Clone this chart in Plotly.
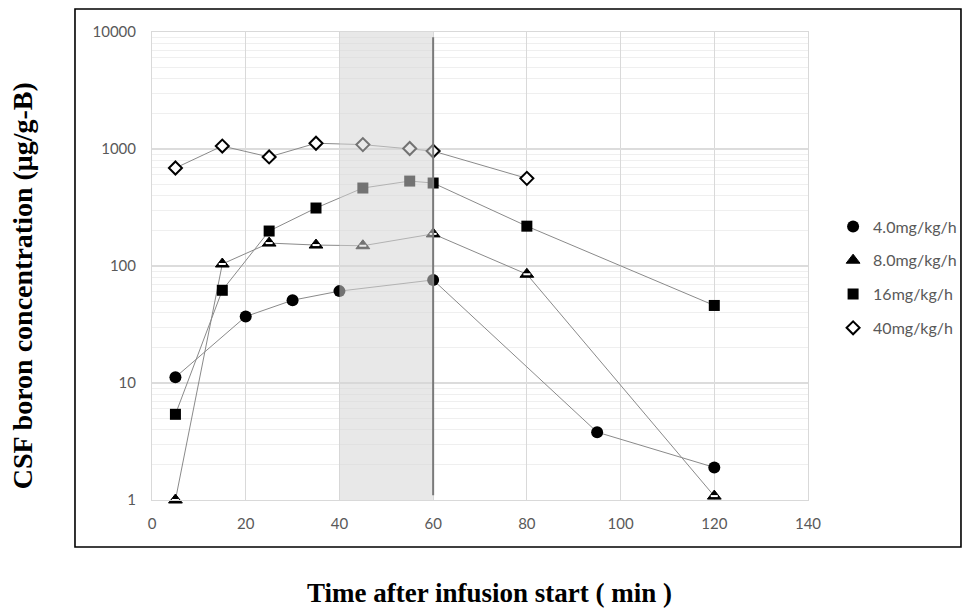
import plotly.graph_objects as go

# ---- data ----
x_4 = [5, 20, 30, 40, 60, 95, 120]
y_4 = [11.2, 37, 51, 61, 76, 3.8, 1.9]

x_8 = [5, 15, 25, 35, 45, 60, 80, 120]
y_8 = [1.0, 104, 157, 151, 149, 188, 85, 1.08]

x_16 = [5, 15, 25, 35, 45, 55, 60, 80, 120]
y_16 = [5.4, 62, 199, 313, 464, 532, 512, 219, 46]

x_40 = [5, 15, 25, 35, 45, 55, 60, 80]
y_40 = [688, 1060, 855, 1120, 1090, 1010, 960, 561]

series_names = ["4.0mg/kg/h", "8.0mg/kg/h", "16mg/kg/h", "40mg/kg/h"]
x_ticks = [0, 20, 40, 60, 80, 100, 120, 140]
y_ticks = [1, 10, 100, 1000, 10000]
y_tick_text = ["1", "10", "100", "1000", "10000"]
shade_x = [40, 60]
infusion_end = 60

series = [(x_4, y_4), (x_8, y_8), (x_16, y_16), (x_40, y_40)]
markers = [
    dict(symbol="circle", size=12, color="black"),
    dict(symbol="triangle-up", size=12, color="black", line=dict(color="black", width=1)),
    dict(symbol="square", size=11, color="black"),
    dict(symbol="diamond", size=10, color="white", line=dict(color="black", width=2)),
]
groups = ["a", "b", "c", "d"]

fig = go.Figure()
# connecting lines (no legend)
for (xs, ys) in series:
    fig.add_trace(go.Scatter(x=xs, y=ys, mode="lines", showlegend=False,
                             line=dict(color="#8a8a8a", width=1), hoverinfo="skip"))
# markers (with legend)
for (xs, ys), name, mk, g in zip(series, series_names, markers, groups):
    fig.add_trace(go.Scatter(x=xs, y=ys, name=name, mode="markers", legendgroup=g,
                             cliponaxis=False, marker=mk))
# white band inside the triangle markers
fig.add_trace(go.Scatter(x=x_8, y=y_8, mode="markers", showlegend=False, hoverinfo="skip",
                         cliponaxis=False,
                         marker=dict(symbol="line-ew", size=5, line=dict(color="white", width=2))))

# shaded infusion window (drawn above the data, semi-transparent)
fig.add_shape(type="rect", xref="x", yref="paper", x0=shade_x[0], x1=shade_x[1],
              y0=0, y1=1, fillcolor="rgba(213,213,213,0.54)", line=dict(width=0),
              layer="above")
fig.add_shape(type="line", xref="x", yref="y", x0=infusion_end, x1=infusion_end,
              y0=1.1, y1=9000, line=dict(color="#7a7a7a", width=2), layer="above")
# outer frame
fig.add_shape(type="rect", xref="paper", yref="paper", x0=-0.1174, x1=1.2332,
              y0=-0.1004, y1=1.0491, line=dict(color="black", width=1.6),
              fillcolor="rgba(0,0,0,0)")

fig.add_annotation(text="<b>CSF boron concentration (μg/g-B)</b>", xref="paper", yref="paper",
                   x=-0.198, y=0.457, xanchor="center", yanchor="middle",
                   textangle=-90, showarrow=False,
                   font=dict(family="Liberation Serif", size=28, color="black"))
fig.add_annotation(text="<b>Time after infusion start ( min )</b>", xref="paper", yref="paper",
                   x=0.515, y=-0.199, xanchor="center", yanchor="middle", showarrow=False,
                   font=dict(family="Liberation Serif", size=27, color="black"))

fig.update_layout(
    width=962, height=609,
    margin=dict(l=152, r=154, t=32, b=109, autoexpand=False),
    paper_bgcolor="white", plot_bgcolor="white",
    font=dict(family="Lato", size=15, color="#595959"),
    showlegend=True,
    legend=dict(xref="container", yref="container", x=0.866, y=0.656,
                xanchor="left", yanchor="top", itemwidth=30,
                tracegroupgap=10, font=dict(family="Lato", size=16, color="#595959"),
                bgcolor="rgba(0,0,0,0)"),
    xaxis=dict(range=[0, 140], tickvals=x_ticks, showgrid=True, gridcolor="#d9d9d9",
               gridwidth=1, zeroline=False, showline=True, linecolor="#d9d9d9",
               mirror=True, ticks="", ticklabelstandoff=10),
    yaxis=dict(type="log", range=[0, 4], tickvals=y_ticks, ticktext=y_tick_text,
               showgrid=True, gridcolor="#dcdcdc", gridwidth=2, zeroline=False,
               showline=True, linecolor="#d9d9d9", mirror=True, ticks="",
               ticklabelstandoff=12,
               minor=dict(dtick="D1", showgrid=True, gridcolor="#efefef", gridwidth=1)),
)

fig.write_html("out.html")
